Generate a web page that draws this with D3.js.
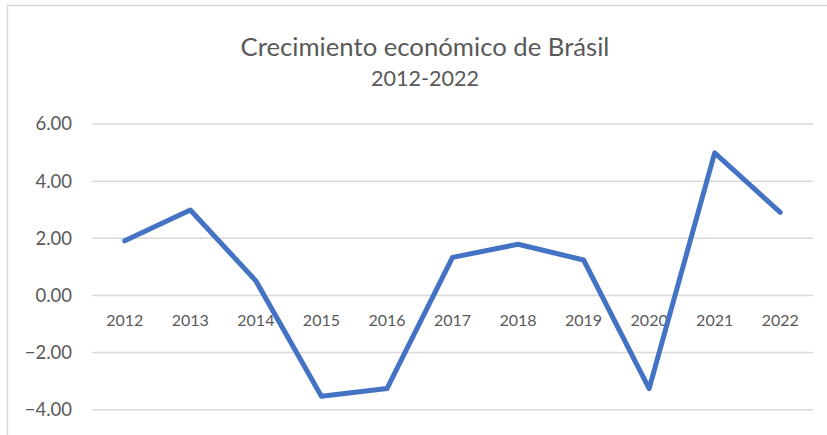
<!DOCTYPE html>
<html>
<head>
<meta charset="utf-8">
<script src="https://cdn.jsdelivr.net/npm/d3@7"></script>
<style>
  body { margin: 0; background: #fff; }
  text { font-family: Lato, "Open Sans", sans-serif; fill: #595959; }
</style>
</head>
<body>
<div id="chart"></div>
<script>
var years = ["2012","2013","2014","2015","2016","2017","2018","2019","2020","2021","2022"];
var growth = [1.91, 2.99, 0.51, -3.53, -3.26, 1.33, 1.79, 1.24, -3.26, 4.99, 2.91];
var yTicks = [-4, -2, 0, 2, 4, 6];

function init(){
    var dataset = years.map(function(y, i){
        return { year: y, value: growth[i] };
    });
    lineChart(dataset);
}

function lineChart(dataset){

    var w = 827;
    var h = 435;
    var left = 92;
    var right = 813;

    var svg = d3.select("#chart")
            .append("svg")
            .attr("width", w)
            .attr("height", h);

    // chart frame, runs off the right and bottom edge
    svg.append("rect")
        .attr("x", 7.5)
        .attr("y", 5.5)
        .attr("width", 900)
        .attr("height", 600)
        .style("fill", "none")
        .style("stroke", "#d9d9d9")
        .style("stroke-width", 1.5);

    var xScale = d3.scaleBand()
            .domain(years)
            .range([left, right]);

    var yScale = d3.scaleLinear()
            .domain([-4, 6])
            .range([409.7, 124]);

    // gridlines
    svg.append("g")
        .selectAll("line")
        .data(yTicks)
        .enter()
        .append("line")
        .attr("x1", left)
        .attr("x2", right)
        .attr("y1", function(d){ return yScale(d); })
        .attr("y2", function(d){ return yScale(d); })
        .style("stroke", "#d9d9d9")
        .style("stroke-width", 1.5);

    // Y axis
    var yAxis = d3.axisLeft()
            .scale(yScale)
            .tickValues(yTicks)
            .tickFormat(d3.format(".2f"))
            .tickSize(0)
            .tickPadding(20);

    var gy = svg.append("g")
        .attr("transform", "translate(" + left + ",0)")
        .call(yAxis);
    gy.select(".domain").remove();
    gy.selectAll("text")
        .style("font-family", "Lato, sans-serif")
        .style("font-size", "18.5px")
        .style("fill", "#595959");

    // X axis sits on the zero line
    var xAxis = d3.axisBottom()
            .scale(xScale)
            .tickSize(0)
            .tickPadding(19);

    var gx = svg.append("g")
        .attr("transform", "translate(0," + yScale(0) + ")")
        .call(xAxis);
    gx.select(".domain").remove();
    gx.selectAll("text")
        .style("font-family", "Lato, sans-serif")
        .style("font-size", "16px")
        .style("fill", "#595959");

    var line = d3.line()
            .x(function(d){ return xScale(d.year) + xScale.bandwidth() / 2; })
            .y(function(d){ return yScale(d.value); });

    svg.append("path")
        .datum(dataset)
        .attr("d", line)
        .style("fill", "none")
        .style("stroke", "#4472c4")
        .style("stroke-width", 5)
        .style("stroke-linejoin", "round")
        .style("stroke-linecap", "round");

    // titles
    svg.append("text")
        .attr("x", 425)
        .attr("y", 56)
        .attr("text-anchor", "middle")
        .style("font-size", "25.7px")
        .text("Crecimiento económico de Brásil");

    svg.append("text")
        .attr("x", 425)
        .attr("y", 86)
        .attr("text-anchor", "middle")
        .style("font-size", "21.6px")
        .text("2012-2022");
}

init();
</script>
</body>
</html>
